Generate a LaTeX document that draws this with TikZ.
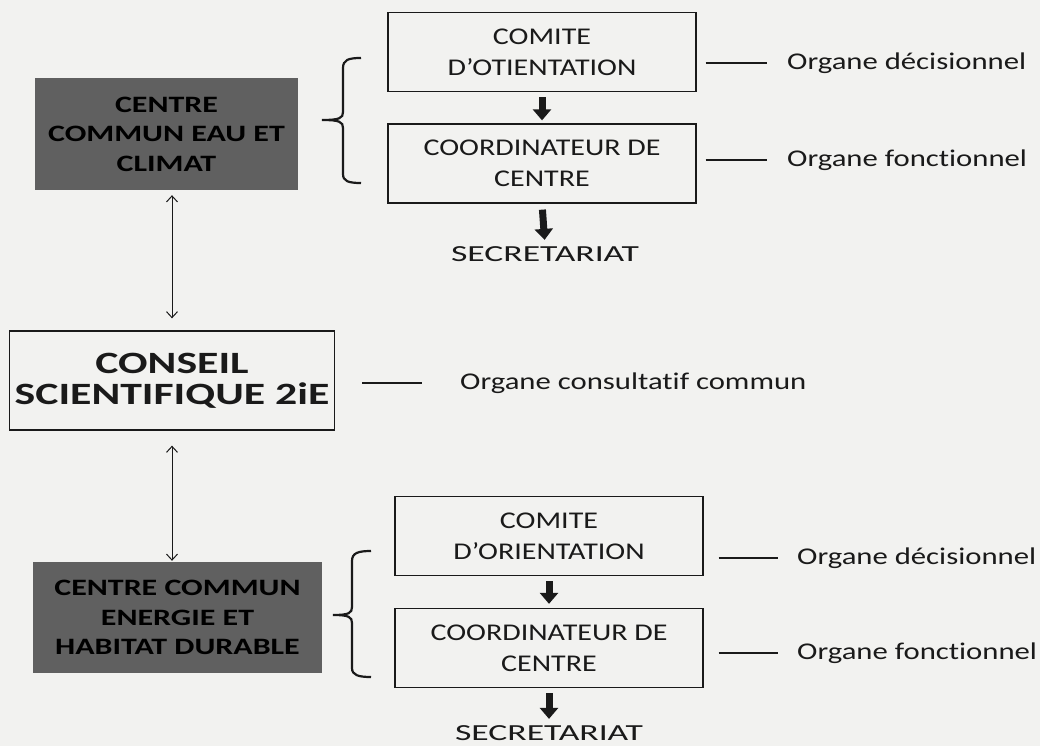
\documentclass[tikz,border=0pt]{standalone}
\usepackage{fontspec}
\setmainfont{Carlito}
\newfontfamily\boxfont[FakeStretch=1.25,Ligatures=NoCommon]{Carlito}
\newfontfamily\secfont[FakeStretch=1.55,Ligatures=NoCommon]{Carlito}
\newfontfamily\labfont[FakeStretch=1.28,Ligatures=NoCommon]{Carlito}
\newfontfamily\darkfont[FakeStretch=1.36,Ligatures=NoCommon]{Carlito}
\newfontfamily\bigfont[FakeStretch=1.41,Ligatures=NoCommon]{Carlito}
\usetikzlibrary{arrows.meta,calc}
\definecolor{paper}{HTML}{F2F2F0}
\definecolor{darkbox}{HTML}{606060}
\definecolor{ink}{HTML}{1A1A1A}
\begin{document}
\begin{tikzpicture}[x=1pt,y=-1pt,
  box/.style={draw=ink, line width=1.3pt, minimum width=308pt, minimum height=79pt,
    align=center, text=ink, inner sep=0pt, font=\boxfont\fontsize{24}{31}\selectfont},
  darkbox/.style={fill=darkbox, draw=none, align=center, text=black, inner sep=0pt,
    font=\darkfont\bfseries\fontsize{23.5}{29.5}\selectfont},
  conseilbox/.style={draw=ink, line width=1.3pt, minimum width=325pt, minimum height=99pt,
    align=center, text=ink, inner sep=0pt, font=\bigfont\bfseries\fontsize{31}{31}\selectfont},
  sectext/.style={text=ink, inner sep=0pt, anchor=base, font=\secfont\fontsize{23}{26}\selectfont},
  labtext/.style={text=ink, inner sep=0pt, anchor=west, font=\labfont\fontsize{24}{28}\selectfont},
  blk/.style={draw=ink, line width=7pt, -{Triangle[length=11pt,width=18pt]}},
  dbl/.style={draw=ink, line width=1pt, {Straight Barb[length=6pt,width=11pt]}-{Straight Barb[length=6pt,width=11pt]}},
  thinline/.style={draw=ink, line width=1.2pt},
  bracestyle/.style={draw=ink, line width=2.2pt}
]
\fill[paper] (0,0) rectangle (1040,746);
\useasboundingbox (0,0) rectangle (1040,746);

% top group
\node[darkbox, minimum width=263pt, minimum height=112pt] (d1) at (166.5,134) {CENTRE\\COMMUN EAU ET\\CLIMAT};
\node[box] (c1) at (542,52) {COMITE\\D’OTIENTATION};
\node[box] (k1) at (542,163.5) {COORDINATEUR DE\\CENTRE};
\node[sectext] (s1) at (545,261) {SECRETARIAT};
\node[labtext] (l1) at (787,63) {Organe décisionnel};
\node[labtext] (l2) at (787,160) {Organe fonctionnel};

% conseil
\node[conseilbox] (cs) at (172,380.5) {CONSEIL\\SCIENTIFIQUE 2iE};
\node[labtext] (l3) at (460,383) {Organe consultatif commun};

% bottom group
\node[darkbox, minimum width=289pt, minimum height=111pt] (d2) at (177.5,617.5) {CENTRE COMMUN\\ENERGIE ET\\HABITAT DURABLE};
\node[box] (c2) at (549,536) {COMITE\\D’ORIENTATION};
\node[box] (k2) at (549,648) {COORDINATEUR DE\\CENTRE};
\node[sectext] (s2) at (549,740) {SECRETARIAT};
\node[labtext] (l4) at (797,558) {Organe décisionnel};
\node[labtext] (l5) at (797,653) {Organe fonctionnel};

% thick arrows
\draw[blk, shorten <=5pt, shorten >=3pt] (c1.south) -- (k1.north);
\draw[blk, shorten <=6pt, shorten >=6pt] (k1.south) -- (s1.north);
\draw[blk, shorten <=5pt, shorten >=4pt] (c2.south) -- (k2.north);
\draw[blk, shorten <=5pt, shorten >=6pt] (k2.south) -- (s2.north);

% double arrows
\draw[dbl, shorten <=5pt, shorten >=12pt] (cs.north |- d1.south) -- (cs.north);
\draw[dbl, shorten <=15pt, shorten >=1pt] (cs.south) -- (cs.south |- d2.north);

% label lines
\draw[thinline] ($(c1.east |- l1.west)+(9,0)$) -- ($(l1.west)+(-20,0)$);
\draw[thinline] ($(k1.east |- l2.west)+(9,0)$) -- ($(l2.west)+(-20,0)$);
\draw[thinline] ($(cs.east |- l3.west)+(27,0)$) -- ($(l3.west)+(-38,0)$);
\draw[thinline] ($(c2.east |- l4.west)+(15,0)$) -- ($(l4.west)+(-19,0)$);
\draw[thinline] ($(k2.east |- l5.west)+(15,0)$) -- ($(l5.west)+(-19,0)$);

% braces
\draw[bracestyle] (361,58) .. controls (348,58) and (343,60) .. (343,68) -- (343,112)
  .. controls (343,118) and (340,120) .. (322,120)
  .. controls (340,120) and (343,122) .. (343,128) -- (343,174)
  .. controls (343,181) and (348,183) .. (361,183);
\draw[bracestyle] (371,551) .. controls (358,551) and (352,553) .. (352,561) -- (352,607)
  .. controls (352,613) and (349,615) .. (333,615)
  .. controls (349,615) and (352,617) .. (352,623) -- (352,668)
  .. controls (352,675) and (358,677) .. (371,677);
\end{tikzpicture}
\end{document}
